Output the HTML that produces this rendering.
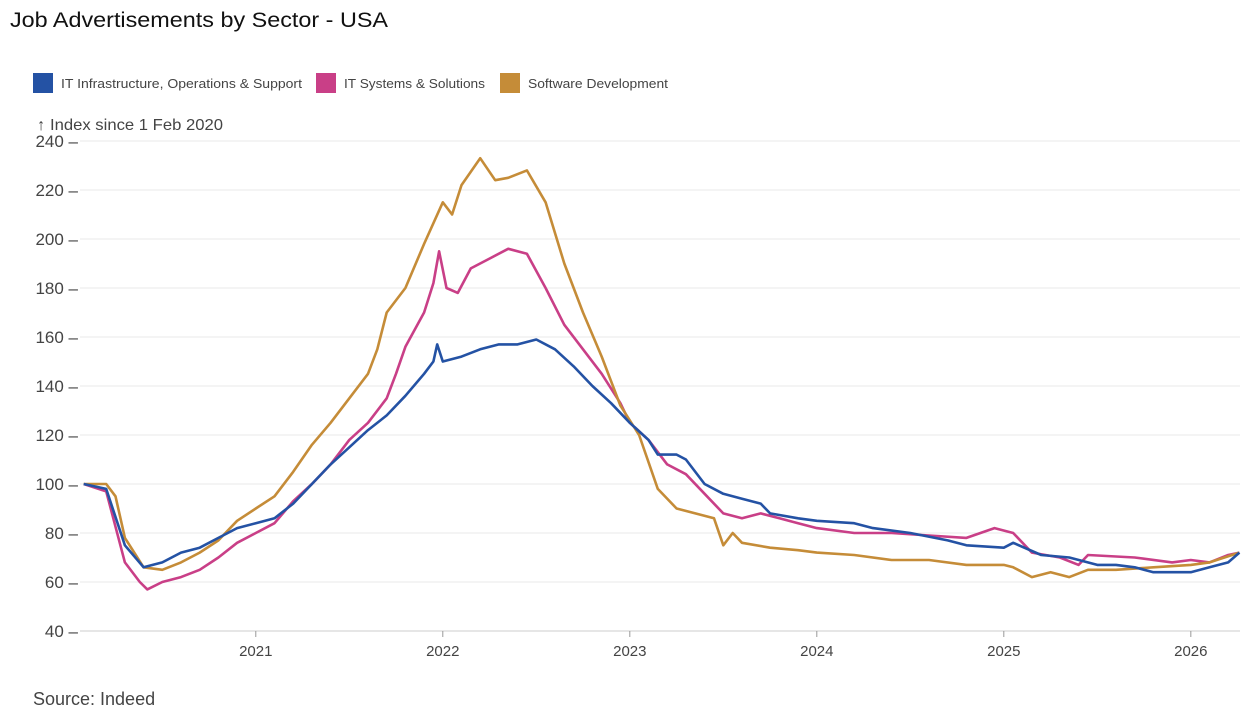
<!DOCTYPE html>
<html><head><meta charset="utf-8"><style>
body{margin:0;background:#fff;width:1253px;height:721px;overflow:hidden;font-family:"Liberation Sans",sans-serif}
</style></head><body>
<svg id="chart" width="1253" height="721" xmlns="http://www.w3.org/2000/svg">
<text x="10" y="27" font-size="21" fill="#111" textLength="378" lengthAdjust="spacingAndGlyphs">Job Advertisements by Sector - USA</text>
<g font-size="13" fill="#444">
<g><rect x="33" y="73" width="20" height="20" fill="#2452a4"/><text x="61" y="88" textLength="241" lengthAdjust="spacingAndGlyphs">IT Infrastructure, Operations &amp; Support</text></g>
<g><rect x="316" y="73" width="20" height="20" fill="#c93f87"/><text x="344" y="88" textLength="141" lengthAdjust="spacingAndGlyphs">IT Systems &amp; Solutions</text></g>
<g><rect x="500" y="73" width="20" height="20" fill="#c58c38"/><text x="528" y="88" textLength="140" lengthAdjust="spacingAndGlyphs">Software Development</text></g>
</g>
<text x="37" y="130" font-size="16" fill="#444" textLength="186" lengthAdjust="spacingAndGlyphs">↑ Index since 1 Feb 2020</text>
<g id="grid"></g><g id="lines"></g>
<text x="33" y="705" font-size="18" fill="#444">Source: Indeed</text>
</svg>
<script>
const yTicks=[40,60,80,100,120,140,160,180,200,220,240];
const xTicks=[2021,2022,2023,2024,2025,2026];
const infraT=[2020.08,2020.2,2020.3,2020.4,2020.5,2020.6,2020.7,2020.8,2020.9,2021.0,2021.1,2021.2,2021.3,2021.4,2021.5,2021.6,2021.7,2021.8,2021.9,2021.95,2021.97,2022.0,2022.1,2022.2,2022.3,2022.4,2022.5,2022.6,2022.7,2022.8,2022.9,2023.0,2023.1,2023.15,2023.25,2023.3,2023.4,2023.5,2023.6,2023.7,2023.75,2023.9,2024.0,2024.2,2024.3,2024.5,2024.7,2024.8,2025.0,2025.05,2025.2,2025.35,2025.5,2025.6,2025.7,2025.8,2026.0,2026.1,2026.2,2026.26];
const infraV=[100,98,75,66,68,72,74,78,82,84,86,92,100,108,115,122,128,136,145,150,157,150,152,155,157,157,159,155,148,140,133,125,118,112,112,110,100,96,94,92,88,86,85,84,82,80,77,75,74,76,71,70,67,67,66,64,64,66,68,72];
const sysT=[2020.08,2020.2,2020.3,2020.38,2020.42,2020.5,2020.6,2020.7,2020.8,2020.9,2021.0,2021.1,2021.2,2021.3,2021.4,2021.5,2021.6,2021.7,2021.75,2021.8,2021.9,2021.95,2021.98,2022.02,2022.08,2022.15,2022.25,2022.35,2022.45,2022.55,2022.65,2022.75,2022.85,2022.95,2023.0,2023.1,2023.2,2023.3,2023.4,2023.5,2023.6,2023.7,2023.8,2023.9,2024.0,2024.2,2024.4,2024.6,2024.8,2024.95,2025.05,2025.15,2025.3,2025.4,2025.45,2025.7,2025.9,2026.0,2026.1,2026.2,2026.26];
const sysV=[100,97,68,60,57,60,62,65,70,76,80,84,93,100,108,118,125,135,145,156,170,182,195,180,178,188,192,196,194,180,165,155,145,133,125,118,108,104,96,88,86,88,86,84,82,80,80,79,78,82,80,72,70,67,71,70,68,69,68,71,72];
const swT=[2020.08,2020.2,2020.25,2020.3,2020.4,2020.5,2020.6,2020.7,2020.8,2020.9,2021.0,2021.1,2021.2,2021.3,2021.4,2021.5,2021.6,2021.65,2021.7,2021.8,2021.9,2022.0,2022.05,2022.1,2022.2,2022.28,2022.35,2022.45,2022.55,2022.65,2022.75,2022.85,2022.95,2023.05,2023.15,2023.25,2023.35,2023.45,2023.5,2023.55,2023.6,2023.75,2023.9,2024.0,2024.2,2024.4,2024.6,2024.8,2025.0,2025.05,2025.15,2025.25,2025.35,2025.45,2025.6,2025.8,2026.0,2026.1,2026.26];
const swV=[100,100,95,78,66,65,68,72,77,85,90,95,105,116,125,135,145,155,170,180,198,215,210,222,233,224,225,228,215,190,170,152,132,120,98,90,88,86,75,80,76,74,73,72,71,69,69,67,67,66,62,64,62,65,65,66,67,68,72];
const NS="http://www.w3.org/2000/svg";
const X0=80,X1=1240,T0=2020.06,T1=2026.263;
const x=t=>X0+(t-T0)/(T1-T0)*(X1-X0);
const y=v=>141+(240-v)*2.45;
const grid=document.getElementById('grid');
yTicks.forEach(v=>{
 const l=document.createElementNS(NS,'line');
 
 
 l.setAttribute('x1',80);l.setAttribute('x2',1240);l.setAttribute('y1',y(v));l.setAttribute('y2',y(v));
 l.setAttribute('stroke','#e8e8e8');l.setAttribute('stroke-width','1');grid.appendChild(l);
 const t=document.createElementNS(NS,'text');
 
 
 t.setAttribute('x',78);t.setAttribute('y',y(v)+6);t.setAttribute('text-anchor','end');
 t.setAttribute('font-size','17');t.setAttribute('fill','#444');t.textContent=v+' –';grid.appendChild(t);
});
const base=document.createElementNS(NS,'line');


base.setAttribute('x1',80);base.setAttribute('x2',1240);base.setAttribute('y1',y(40));base.setAttribute('y2',y(40));base.setAttribute('stroke','#ccc');grid.appendChild(base);
xTicks.forEach(v=>{
 const tk=document.createElementNS(NS,'line');
 
 
 tk.setAttribute('x1',x(v));tk.setAttribute('x2',x(v));tk.setAttribute('y1',y(40));tk.setAttribute('y2',y(40)+6);tk.setAttribute('stroke','#999');grid.appendChild(tk);
 const t=document.createElementNS(NS,'text');
 
 
 t.setAttribute('x',x(v));t.setAttribute('y',656);t.setAttribute('text-anchor','middle');
 t.setAttribute('font-size','15');t.setAttribute('fill','#444');t.textContent=v;grid.appendChild(t);
});
const lines=document.getElementById('lines');
function draw(T,V,c,name){
 const p=document.createElementNS(NS,'path');
 
 
 p.setAttribute('d',T.map((t,i)=>(i?'L':'M')+x(t).toFixed(1)+','+y(V[i]).toFixed(1)).join(''));
 p.setAttribute('fill','none');p.setAttribute('stroke',c);p.setAttribute('stroke-width','2.6');p.setAttribute('stroke-linejoin','round');
 lines.appendChild(p);
}
draw(sysT,sysV,'#c93f87','line-it-systems');
draw(swT,swV,'#c58c38','line-software-development');
draw(infraT,infraV,'#2452a4','line-it-infrastructure');
</script>
</body></html>
